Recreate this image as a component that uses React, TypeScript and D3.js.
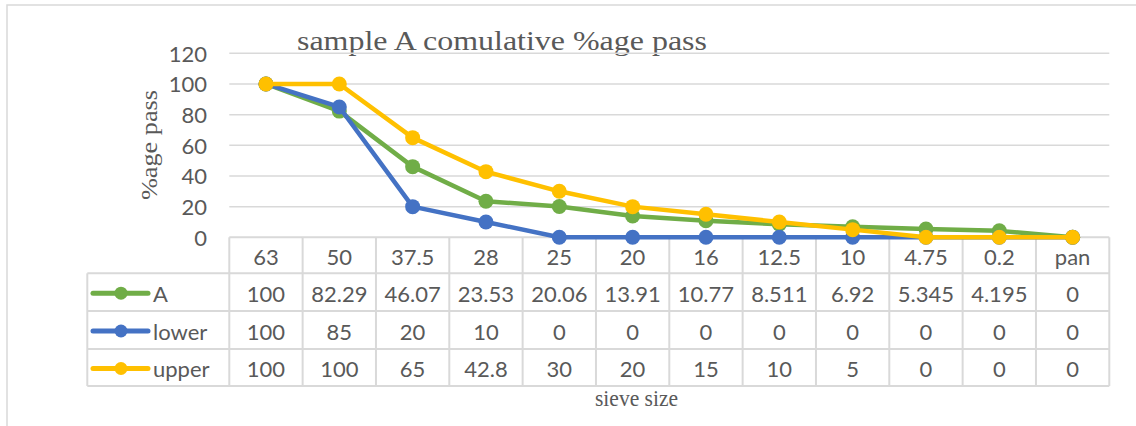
import React from "react";
import * as d3 from "d3";

// Sieve sizes (mm) and cumulative percentage passing for each series
const sieveSizes = ["63", "50", "37.5", "28", "25", "20", "16", "12.5", "10", "4.75", "0.2", "pan"];
const sampleA = [100, 82.29, 46.07, 23.53, 20.06, 13.91, 10.77, 8.511, 6.92, 5.345, 4.195, 0];
const lowerLimit = [100, 85, 20, 10, 0, 0, 0, 0, 0, 0, 0, 0];
const upperLimit = [100, 100, 65, 42.8, 30, 20, 15, 10, 5, 0, 0, 0];
const yTicks = [0, 20, 40, 60, 80, 100, 120];

const seriesList = [
  { name: "A", values: sampleA, color: "#70AD47" },
  { name: "lower", values: lowerLimit, color: "#4472C4" },
  { name: "upper", values: upperLimit, color: "#FFC000" },
];

const W = 1136;
const H = 426;
const plotLeft = 229.3;
const plotRight = 1109.3;
const plotTop = 53.3;
const plotBottom = 237.3;
const legendLeft = 87.3;
const rowEdges = [237.3, 273.3, 311, 349, 386];
const grid = "#d9d9d9";
const textColor = "#595959";
const sans = "Lato, 'Open Sans', sans-serif";
const serif = "'Liberation Serif', 'Times New Roman', serif";

export default function App() {
  const x = d3.scaleBand<string>().domain(sieveSizes).range([plotLeft, plotRight]).padding(0);
  const y = d3.scaleLinear().domain([0, 120]).range([plotBottom, plotTop]);
  const cx = (c: string) => (x(c) as number) + x.bandwidth() / 2;

  const line = d3
    .line<number>()
    .x((_, i) => cx(sieveSizes[i]))
    .y((v) => y(v));

  const colEdges = sieveSizes.map((c) => x(c) as number).concat([plotRight]);

  return (
    <div style={{ position: "fixed", left: 0, top: 0 }}>
      <svg width={W} height={H} style={{ display: "block", background: "#fff" }}>
        {/* chart frame */}
        <rect x={7} y={5} width={W + 20} height={H + 20} fill="none" stroke={grid} strokeWidth={1.5} />

        {/* title */}
        <text
          x={297}
          y={50}
          fontFamily={serif}
          fontSize={27}
          fill={textColor}
          textLength={410}
          lengthAdjust="spacingAndGlyphs"
        >
          sample A comulative %age pass
        </text>

        {/* horizontal gridlines */}
        {yTicks
          .filter((t) => t > 0)
          .map((t) => (
            <line key={t} x1={plotLeft} x2={plotRight} y1={y(t)} y2={y(t)} stroke={grid} strokeWidth={1.5} />
          ))}

        {/* y tick labels */}
        {yTicks.map((t) => (
          <text
            key={t}
            x={207}
            y={y(t)}
            textAnchor="end"
            dominantBaseline="central"
            fontFamily={sans}
            fontSize={22}
            fill={textColor}
          >
            {t}
          </text>
        ))}

        {/* y axis title */}
        <text
          transform={`translate(157,145) rotate(-90)`}
          textAnchor="middle"
          fontFamily={serif}
          fontSize={24}
          fill={textColor}
          textLength={110}
          lengthAdjust="spacingAndGlyphs"
        >
          %age pass
        </text>

        {/* data table grid */}
        <line x1={plotLeft} x2={plotRight} y1={rowEdges[0]} y2={rowEdges[0]} stroke={grid} strokeWidth={2} />
        {rowEdges.slice(1).map((ry, i) => (
          <line key={i} x1={legendLeft} x2={plotRight} y1={ry} y2={ry} stroke={grid} strokeWidth={2} />
        ))}
        <line x1={legendLeft} x2={legendLeft} y1={rowEdges[1]} y2={rowEdges[4]} stroke={grid} strokeWidth={2} />
        {colEdges.map((cxv, i) => (
          <line key={i} x1={cxv} x2={cxv} y1={rowEdges[0]} y2={rowEdges[4]} stroke={grid} strokeWidth={2} />
        ))}

        {/* category header row */}
        {sieveSizes.map((c) => (
          <text
            key={c}
            x={cx(c)}
            y={(rowEdges[0] + rowEdges[1]) / 2 + 1}
            textAnchor="middle"
            dominantBaseline="central"
            fontFamily={sans}
            fontSize={22}
            fill={textColor}
          >
            {c}
          </text>
        ))}

        {/* value rows with legend keys */}
        {seriesList.map((s, si) => {
          const my = (rowEdges[si + 1] + rowEdges[si + 2]) / 2 + 1;
          return (
            <g key={s.name}>
              <line x1={93} x2={148} y1={my} y2={my} stroke={s.color} strokeWidth={5} strokeLinecap="round" />
              <circle cx={121} cy={my} r={6.5} fill={s.color} />
              <text x={153} y={my} dominantBaseline="central" fontFamily={sans} fontSize={22} fill={textColor}>
                {s.name}
              </text>
              {s.values.map((v, i) => (
                <text
                  key={i}
                  x={cx(sieveSizes[i])}
                  y={my}
                  textAnchor="middle"
                  dominantBaseline="central"
                  fontFamily={sans}
                  fontSize={22}
                  fill={textColor}
                >
                  {v}
                </text>
              ))}
            </g>
          );
        })}

        {/* series lines and markers */}
        {seriesList.map((s) => (
          <g key={s.name}>
            <path d={line(s.values) as string} fill="none" stroke={s.color} strokeWidth={4.5} strokeLinejoin="round" />
            {s.values.map((v, i) => (
              <circle key={i} cx={cx(sieveSizes[i])} cy={y(v)} r={7.5} fill={s.color} />
            ))}
          </g>
        ))}

        {/* x axis title */}
        <text
          x={595}
          y={406}
          fontFamily={serif}
          fontSize={24}
          fill={textColor}
          textLength={83}
          lengthAdjust="spacingAndGlyphs"
        >
          sieve size
        </text>
      </svg>
    </div>
  );
}
